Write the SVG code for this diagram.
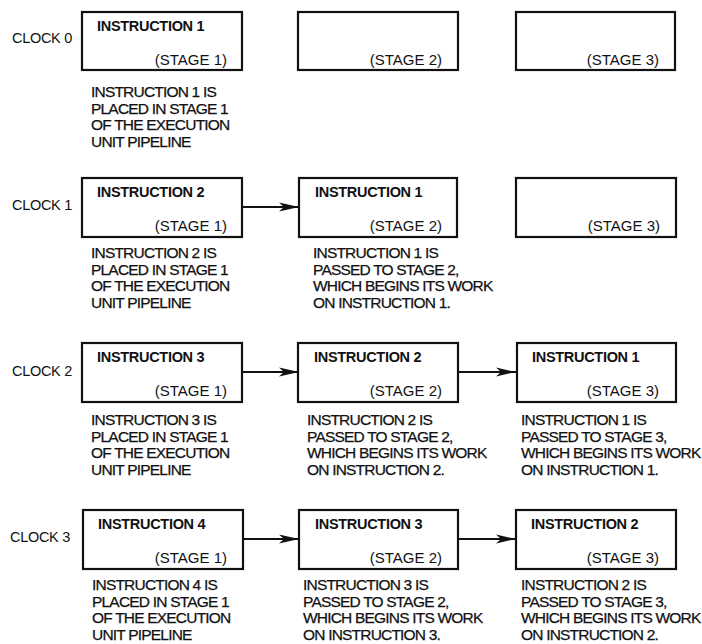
<svg xmlns="http://www.w3.org/2000/svg" width="702" height="644" viewBox="0 0 702 644">
<style>
text{font-family:"Liberation Sans",Arial,sans-serif;fill:#111}
.box{fill:#fff;stroke:#111;stroke-width:2.2}
.hd{font-size:14.5px;font-weight:bold;letter-spacing:-0.3px}
.st{font-size:15px;text-anchor:end}
.ck{font-size:14.5px;letter-spacing:-0.3px}
.ds{font-size:15.5px;letter-spacing:-0.8px;stroke:#111;stroke-width:0.25}
.cn{stroke:#111;stroke-width:2;fill:none}
</style>
<defs>
<marker id="ah" markerUnits="userSpaceOnUse" markerWidth="22" markerHeight="12" refX="20" refY="5" orient="auto">
<path d="M0,0.5 L20,5 L0,9.5 L5,5 z" fill="#111"/>
</marker>
</defs>
<rect width="702" height="644" fill="#fff"/>
<g id="labels">
<text class="ck" x="12" y="43">CLOCK 0</text>
<text class="ck" x="12" y="210">CLOCK 1</text>
<text class="ck" x="12" y="376">CLOCK 2</text>
<text class="ck" x="10" y="542">CLOCK 3</text>
</g>
<g id="connectors">
<line class="cn" x1="243" y1="207" x2="299" y2="207" marker-end="url(#ah)"/>
<line class="cn" x1="243" y1="372" x2="299" y2="372" marker-end="url(#ah)"/>
<line class="cn" x1="458" y1="372" x2="516" y2="372" marker-end="url(#ah)"/>
<line class="cn" x1="243" y1="539" x2="299" y2="539" marker-end="url(#ah)"/>
<line class="cn" x1="458" y1="539" x2="516" y2="539" marker-end="url(#ah)"/>
</g>
<!-- Row 0 -->
<g id="r0c1">
<rect class="box" x="82" y="12" width="160" height="58"/>
<text class="hd" x="97" y="31">INSTRUCTION 1</text>
<text class="st" x="227" y="65">(STAGE 1)</text>
<text class="ds" x="91" y="97">INSTRUCTION 1 IS</text>
<text class="ds" x="91" y="113.5">PLACED IN STAGE 1</text>
<text class="ds" x="91" y="130">OF THE EXECUTION</text>
<text class="ds" x="91" y="146.5">UNIT PIPELINE</text>
</g>
<g id="r0c2">
<rect class="box" x="298" y="12" width="160" height="58"/>
<text class="st" x="442" y="65">(STAGE 2)</text>
</g>
<g id="r0c3">
<rect class="box" x="516" y="12" width="159" height="58"/>
<text class="st" x="659" y="65">(STAGE 3)</text>
</g>
<!-- Row 1 -->
<g id="r1c1">
<rect class="box" x="82" y="178" width="160" height="59"/>
<text class="hd" x="97" y="197">INSTRUCTION 2</text>
<text class="st" x="227" y="231">(STAGE 1)</text>
<text class="ds" x="91" y="258">INSTRUCTION 2 IS</text>
<text class="ds" x="91" y="274.5">PLACED IN STAGE 1</text>
<text class="ds" x="91" y="291">OF THE EXECUTION</text>
<text class="ds" x="91" y="307.5">UNIT PIPELINE</text>
</g>
<g id="r1c2">
<rect class="box" x="299" y="178" width="158" height="59"/>
<text class="hd" x="315" y="197">INSTRUCTION 1</text>
<text class="st" x="442" y="231">(STAGE 2)</text>
<text class="ds" x="313" y="258">INSTRUCTION 1 IS</text>
<text class="ds" x="313" y="274.5">PASSED TO STAGE 2,</text>
<text class="ds" x="313" y="291">WHICH BEGINS ITS WORK</text>
<text class="ds" x="313" y="307.5">ON INSTRUCTION 1.</text>
</g>
<g id="r1c3">
<rect class="box" x="516" y="178" width="160" height="59"/>
<text class="st" x="660" y="231">(STAGE 3)</text>
</g>
<!-- Row 2 -->
<g id="r2c1">
<rect class="box" x="82" y="343" width="160" height="59"/>
<text class="hd" x="97" y="362">INSTRUCTION 3</text>
<text class="st" x="227" y="396">(STAGE 1)</text>
<text class="ds" x="91" y="425">INSTRUCTION 3 IS</text>
<text class="ds" x="91" y="441.5">PLACED IN STAGE 1</text>
<text class="ds" x="91" y="458">OF THE EXECUTION</text>
<text class="ds" x="91" y="474.5">UNIT PIPELINE</text>
</g>
<g id="r2c2">
<rect class="box" x="298" y="343" width="160" height="59"/>
<text class="hd" x="314" y="362">INSTRUCTION 2</text>
<text class="st" x="442" y="396">(STAGE 2)</text>
<text class="ds" x="307" y="425">INSTRUCTION 2 IS</text>
<text class="ds" x="307" y="441.5">PASSED TO STAGE 2,</text>
<text class="ds" x="307" y="458">WHICH BEGINS ITS WORK</text>
<text class="ds" x="307" y="474.5">ON INSTRUCTION 2.</text>
</g>
<g id="r2c3">
<rect class="box" x="517" y="343" width="159" height="59"/>
<text class="hd" x="532" y="362">INSTRUCTION 1</text>
<text class="st" x="659" y="396">(STAGE 3)</text>
<text class="ds" x="521" y="425">INSTRUCTION 1 IS</text>
<text class="ds" x="521" y="441.5">PASSED TO STAGE 3,</text>
<text class="ds" x="521" y="458">WHICH BEGINS ITS WORK</text>
<text class="ds" x="521" y="474.5">ON INSTRUCTION 1.</text>
</g>
<!-- Row 3 -->
<g id="r3c1">
<rect class="box" x="83" y="510" width="160" height="59"/>
<text class="hd" x="98" y="529">INSTRUCTION 4</text>
<text class="st" x="227" y="563">(STAGE 1)</text>
<text class="ds" x="92" y="590">INSTRUCTION 4 IS</text>
<text class="ds" x="92" y="606.5">PLACED IN STAGE 1</text>
<text class="ds" x="92" y="623">OF THE EXECUTION</text>
<text class="ds" x="92" y="639.5">UNIT PIPELINE</text>
</g>
<g id="r3c2">
<rect class="box" x="299" y="510" width="159" height="59"/>
<text class="hd" x="315" y="529">INSTRUCTION 3</text>
<text class="st" x="442" y="563">(STAGE 2)</text>
<text class="ds" x="303" y="590">INSTRUCTION 3 IS</text>
<text class="ds" x="303" y="606.5">PASSED TO STAGE 2,</text>
<text class="ds" x="303" y="623">WHICH BEGINS ITS WORK</text>
<text class="ds" x="303" y="639.5">ON INSTRUCTION 3.</text>
</g>
<g id="r3c3">
<rect class="box" x="516" y="510" width="160" height="59"/>
<text class="hd" x="531" y="529">INSTRUCTION 2</text>
<text class="st" x="659" y="563">(STAGE 3)</text>
<text class="ds" x="521" y="590">INSTRUCTION 2 IS</text>
<text class="ds" x="521" y="606.5">PASSED TO STAGE 3,</text>
<text class="ds" x="521" y="623">WHICH BEGINS ITS WORK</text>
<text class="ds" x="521" y="639.5">ON INSTRUCTION 2.</text>
</g>
</svg>
